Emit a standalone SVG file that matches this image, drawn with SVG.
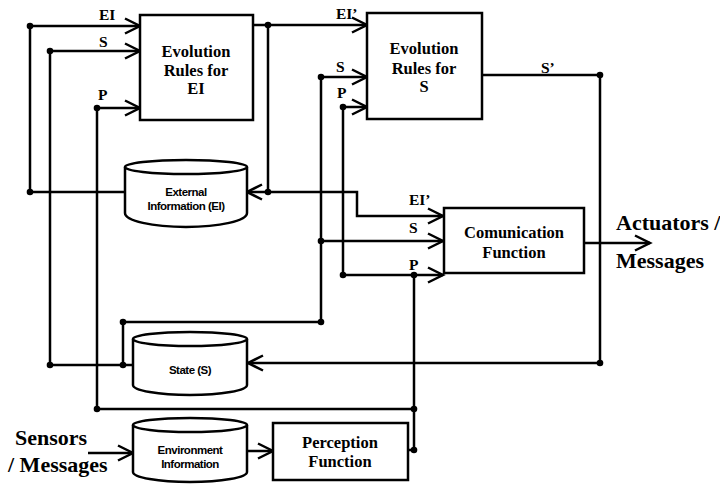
<svg xmlns="http://www.w3.org/2000/svg" width="720" height="485" viewBox="0 0 720 485">
<defs>
<marker id="arr" markerUnits="userSpaceOnUse" markerWidth="20" markerHeight="20" viewBox="0 0 20 20" refX="17" refY="10" orient="auto">
<path d="M2,2.5 L17,10 L2,17.5" fill="none" stroke="#000" stroke-width="2.5"/>
</marker>
<style>
.ln{fill:none;stroke:#000;stroke-width:2.5;stroke-linejoin:miter}
.bx{fill:#fff;stroke:#000;stroke-width:2.5}
.dot{fill:#000}
.lbl{font-family:"Liberation Serif",serif;font-weight:bold;font-size:15.5px;fill:#000}
.btx{font-family:"Liberation Serif",serif;font-weight:bold;font-size:16.5px;fill:#000;text-anchor:middle}
.big{font-family:"Liberation Serif",serif;font-weight:bold;font-size:22px;fill:#000}
.ctx{font-family:"Liberation Sans",sans-serif;font-weight:bold;font-size:11.5px;fill:#000;text-anchor:middle;letter-spacing:-0.5px}
</style>
</defs>
<rect width="720" height="485" fill="#fff"/>
<g id="connectors">
<path class="ln" d="M125,192 H30 V26 H140" marker-end="url(#arr)"/>
<path class="ln" d="M133,365 H50 V51 H140" marker-end="url(#arr)"/>
<path class="ln" d="M123,365 V322 H321 V77 H367" marker-end="url(#arr)"/>
<path class="ln" d="M321,241 H443" marker-end="url(#arr)"/>
<path class="ln" d="M408,450 H414 V409 H97 V108 H140" marker-end="url(#arr)"/>
<path class="ln" d="M414,409 V275"/>
<path class="ln" d="M343,275 H443" marker-end="url(#arr)"/>
<path class="ln" d="M343,275 V107 H367" marker-end="url(#arr)"/>
<path class="ln" d="M253,25 H367" marker-end="url(#arr)"/>
<path class="ln" d="M268,25 V192 H247" marker-end="url(#arr)"/>
<path class="ln" d="M268,192 H357 V216 H443" marker-end="url(#arr)"/>
<path class="ln" d="M482,75 H600 V363 H248" marker-end="url(#arr)"/>
<path class="ln" d="M584,243 H650" marker-end="url(#arr)"/>
<path class="ln" d="M88,453 H133" marker-end="url(#arr)"/>
<path class="ln" d="M247,451 H273" marker-end="url(#arr)"/>
<circle class="dot" cx="30" cy="26" r="3.3"/>
<circle class="dot" cx="30" cy="192" r="3.3"/>
<circle class="dot" cx="50" cy="51" r="3.3"/>
<circle class="dot" cx="50" cy="365" r="3.3"/>
<circle class="dot" cx="123" cy="365" r="3.3"/>
<circle class="dot" cx="123" cy="322" r="3.3"/>
<circle class="dot" cx="321" cy="322" r="3.3"/>
<circle class="dot" cx="321" cy="77" r="3.3"/>
<circle class="dot" cx="321" cy="241" r="3.3"/>
<circle class="dot" cx="414" cy="450" r="3.3"/>
<circle class="dot" cx="414" cy="409" r="3.3"/>
<circle class="dot" cx="97" cy="409" r="3.3"/>
<circle class="dot" cx="97" cy="108" r="3.3"/>
<circle class="dot" cx="414" cy="275" r="3.3"/>
<circle class="dot" cx="343" cy="275" r="3.3"/>
<circle class="dot" cx="343" cy="107" r="3.3"/>
<circle class="dot" cx="268" cy="25" r="3.3"/>
<circle class="dot" cx="268" cy="192" r="3.3"/>
<circle class="dot" cx="600" cy="75" r="3.3"/>
<circle class="dot" cx="600" cy="363" r="3.3"/>
<text class="lbl" x="99" y="20">EI</text>
<text class="lbl" x="99" y="47">S</text>
<text class="lbl" x="98" y="100">P</text>
<text class="lbl" x="336" y="19">EI’</text>
<text class="lbl" x="336" y="72">S</text>
<text class="lbl" x="337" y="98">P</text>
<text class="lbl" x="541" y="73">S’</text>
<text class="lbl" x="409" y="205">EI’</text>
<text class="lbl" x="409" y="233">S</text>
<text class="lbl" x="409" y="270">P</text>
<text class="big" x="616" y="230">Actuators /</text>
<text class="big" x="616" y="268">Messages</text>
<text class="big" x="15" y="445">Sensors</text>
<text class="big" x="8" y="472">/ Messages</text>
</g>
<g id="evo-ei">
<rect class="bx" x="140" y="15" width="113" height="105"/>
<text class="btx" x="196" y="57">Evolution</text>
<text class="btx" x="196" y="76">Rules for</text>
<text class="btx" x="196" y="94">EI</text>
</g>
<g id="evo-s">
<rect class="bx" x="367" y="13" width="115" height="106"/>
<text class="btx" x="424" y="54">Evolution</text>
<text class="btx" x="424" y="74">Rules for</text>
<text class="btx" x="424" y="92">S</text>
</g>
<g id="comm">
<rect class="bx" x="444" y="208" width="140" height="65"/>
<text class="btx" x="514" y="238">Comunication</text>
<text class="btx" x="514" y="258">Function</text>
</g>
<g id="perception">
<rect class="bx" x="273" y="423" width="135" height="57"/>
<text class="btx" x="340" y="448">Perception</text>
<text class="btx" x="340" y="467">Function</text>
</g>
<g id="ext-info">
<path class="bx" d="M125,167 V213 A61,14 0 0 0 247,213 V167"/>
<ellipse class="bx" cx="186" cy="167" rx="61" ry="7"/>
<text class="ctx" x="186" y="196">External</text>
<text class="ctx" x="186" y="210">Information (EI)</text>
</g>
<g id="state">
<path class="bx" d="M133,339 V385 A57,10 0 0 0 247,385 V339"/>
<ellipse class="bx" cx="190" cy="339" rx="57" ry="7"/>
<text class="ctx" x="190" y="374">State (S)</text>
</g>
<g id="env-info">
<path class="bx" d="M133,425 V472 A57,10 0 0 0 247,472 V425"/>
<ellipse class="bx" cx="190" cy="425" rx="57" ry="7"/>
<text class="ctx" x="190" y="454">Environment</text>
<text class="ctx" x="190" y="468">Information</text>
</g>
</svg>
